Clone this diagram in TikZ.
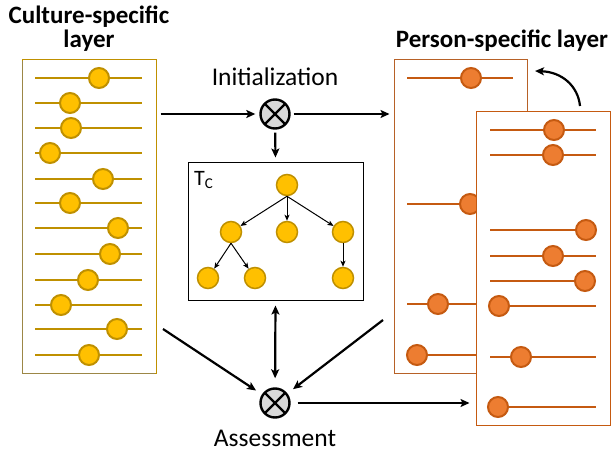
\documentclass[tikz,border=0pt]{standalone}
\usepackage{fontspec}
\setmainfont{Carlito}
\usetikzlibrary{arrows.meta}
\definecolor{goldfill}{HTML}{FFC000}
\definecolor{goldline}{HTML}{BF9000}
\definecolor{orangefill}{HTML}{ED7D31}
\definecolor{orangeline}{HTML}{C55A11}
\definecolor{mixfill}{HTML}{D9D9D9}

\tikzset{
  track/.style={line width=2.6pt},
  knob/.style={circle, minimum size=20pt, inner sep=0pt, line width=2pt},
  goldknob/.style={knob, fill=goldfill, draw=goldline},
  orangeknob/.style={knob, fill=orangefill, draw=orangeline},
  treenode/.style={circle, minimum size=21pt, inner sep=0pt, fill=goldfill, draw=goldline, line width=1.5pt},
  mixer/.style={circle, minimum size=29pt, inner sep=0pt, fill=mixfill, draw=black, line width=2.4pt,
    path picture={\draw[line width=2.4pt]
      (path picture bounding box.north west) -- (path picture bounding box.south east)
      (path picture bounding box.north east) -- (path picture bounding box.south west);}},
  flow/.style={line width=2.2pt, -{Stealth[length=9pt,width=8pt,inset=2pt]}},
  treeedge/.style={line width=1pt, -{Stealth[length=6pt,width=5pt,inset=1.5pt]}},
  bigtitle/.style={font=\fontsize{25}{24.5}\selectfont\bfseries, inner sep=0pt},
  label/.style={font=\fontsize{25.5}{25.5}\selectfont, inner sep=0pt},
}

\begin{document}
\begin{tikzpicture}[x=1pt, y=-1pt]
\useasboundingbox (0,0) rectangle (613,452);

% culture-specific layer
\node[draw=goldline, line width=1pt, minimum width=134pt, minimum height=313pt, inner sep=0pt] (cul) at (89,216.5) {};
\draw[goldline!45!gray, line width=1pt] (22,61) -- (22,373) -- (155,373);
\foreach \y/\x [count=\i] in {78/99, 103/70, 128/71, 153/50, 179/103, 203/70,
                              228/118, 254/110, 280/88, 305/61, 329/117, 355/89}{
  \draw[track, goldline] (35,\y) -- (142,\y);
  \node[goldknob] (c\i) at (\x,\y) {};
}
% the base anchor of a multi-line node sits on its last line
\node[bigtitle, align=center, anchor=base] (cultitle) at (89,48) {Culture-specific\\layer};

% person-specific layer, first sheet
\node[draw=orangeline!80!gray, line width=1pt, minimum width=133pt, minimum height=313pt, inner sep=0pt] (pa) at (460.5,216.5) {};
\foreach \y/\x [count=\i] in {78/471, 204/470, 304/438, 355/417}{
  \draw[track, orangeline] (407,\y) -- (513,\y);
  \node[orangeknob] (p\i) at (\x,\y) {};
}

% person-specific layer, second sheet on top
\node[draw=orangeline, fill=white, line width=1pt, minimum width=134pt, minimum height=314pt, inner sep=0pt] (pb) at (543,268) {};
\foreach \y/\x [count=\i] in {130/554, 155/553, 230/586, 256/553, 281/585, 306/499, 357/521, 407/498}{
  \draw[track, orangeline] (490,\y) -- (596,\y);
  \node[orangeknob] (q\i) at (\x,\y) {};
}
\node[bigtitle, anchor=base] (pertitle) at (502,48) {Person-specific layer};

% sheet switching arrow
\coordinate (swa) at (580,106);
\coordinate (swb) at (535,71);
\draw[line width=2.2pt, -{Stealth[length=9pt,width=8pt,inset=2pt]}]
  (swa) .. controls (578,86) and (562,72) .. (swb);

% mixers
\node[mixer] (init) at (275,114) {};
\node[mixer] (assess) at (275,403) {};
\node[label, anchor=base] (inittext) at (275,85) {Initialization};
\node[label, anchor=base] (assesstext) at (275,446) {Assessment};

% tree box
\node[draw, line width=1pt, minimum width=175pt, minimum height=138pt, inner sep=0pt] (tc) at (275.5,231) {};
\node[anchor=base west, inner sep=0pt, font=\fontsize{22}{22}\selectfont] (tclabel) at (194,185)
  {T\raisebox{-0.35ex}{\fontsize{15}{15}\selectfont C}};
\node[treenode] (r) at (287,185) {};
\node[treenode] (a) at (231,232) {};
\node[treenode] (b) at (287,232) {};
\node[treenode] (c) at (343,232) {};
\node[treenode] (d) at (208,278) {};
\node[treenode] (e) at (255,278) {};
\node[treenode] (f) at (343,278) {};
\draw[treeedge] (r.south) -- (a);
\draw[treeedge] (r.south) -- (b);
\draw[treeedge] (r.south) -- (c);
\draw[treeedge] (a.south) -- (d);
\draw[treeedge] (a.south) -- (e);
\draw[treeedge] (c.south) -- (f);

% flows
\draw[flow, shorten >=4pt] ([xshift=4pt]cul.east |- init) -- (init);
\draw[flow, shorten <=3pt, shorten >=4pt] (init) -- (pa.west |- init);
\draw[flow, shorten <=3pt, shorten >=4pt] (init) -- (tc.north);
\draw[flow, {Stealth[length=9pt,width=8pt,inset=2pt]}-{Stealth[length=9pt,width=8pt,inset=2pt]},
      shorten <=5pt, shorten >=9pt] (tc.south) -- (assess);
\coordinate (cfrom) at (163,329);
\coordinate (pfrom) at (383,320);
\draw[flow, shorten >=7pt] (cfrom) -- (assess);
\draw[flow, shorten >=7pt] (pfrom) -- (assess);
\draw[flow, shorten <=7pt, shorten >=6pt] (assess) -- (pb.west |- assess);
\end{tikzpicture}
\end{document}
